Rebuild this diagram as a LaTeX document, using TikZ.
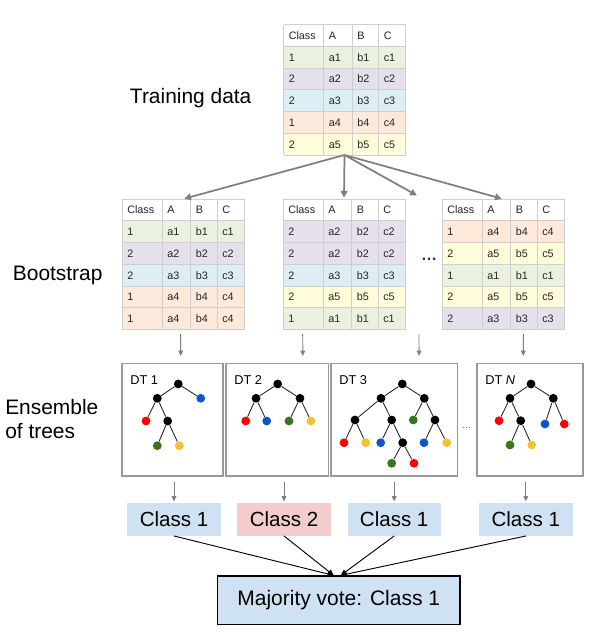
\documentclass[tikz,border=0pt]{standalone}
\usepackage{fontspec}
\setmainfont{Liberation Sans}
\usetikzlibrary{arrows.meta,calc}

% row tints of the data tables
\definecolor{rowgreen}{HTML}{EAF1DE}
\definecolor{rowpurple}{HTML}{E5E0EC}
\definecolor{rowblue}{HTML}{DCEEF4}
\definecolor{rowpeach}{HTML}{FDE9D9}
\definecolor{rowyellow}{HTML}{FFFDD9}
\definecolor{gridgray}{HTML}{CFCFCF}
\definecolor{framegray}{HTML}{999999}
\definecolor{arrowgray}{HTML}{7F7F7F}
\definecolor{classblue}{HTML}{CFE2F3}
\definecolor{classred}{HTML}{F4CCCC}
\definecolor{leafred}{HTML}{FF0000}
\definecolor{leafblue}{HTML}{1155CC}
\definecolor{leafgreen}{HTML}{38761D}
\definecolor{leafyellow}{HTML}{F1C232}
\definecolor{navydots}{HTML}{1F3864}

\tikzset{
  sizebox/.style 2 args={minimum width=#1*0.75pt, minimum height=#2*0.75pt},
  sectionlabel/.style={font=\fontsize{15.7}{18.5}\selectfont, inner sep=0pt},
  celltext/.style={font=\fontsize{8.1}{9.5}\selectfont, text=black!85, inner sep=0pt, anchor=base west},
  tabframe/.style={draw=none, inner sep=0pt, outer sep=0pt},
  gridline/.style={draw=gridgray, line width=0.6pt},
  split arrow/.style={draw=arrowgray, line width=1.3pt, shorten >=1pt, -{Triangle[length=5pt,width=5pt]}},
  thin arrow/.style={draw=arrowgray, line width=0.7pt, -{Triangle[length=4pt,width=3.5pt]}},
  vote arrow/.style={draw=black, line width=0.7pt, -{Triangle[length=4.5pt,width=4pt]}},
  treebox/.style={draw=framegray, line width=0.9pt, inner sep=0pt, outer sep=0pt, anchor=north west},
  treelabel/.style={font=\fontsize{9.6}{11}\selectfont, inner sep=0pt, anchor=base west},
  splitnode/.style={circle, fill=black, inner sep=0pt, minimum size=6.6pt},
  leafnode/.style={circle, fill=#1, inner sep=0pt, minimum size=6.6pt},
  treeedge/.style={draw=black!85, line width=0.65pt},
  classbox/.style={fill=#1, sizebox={93.4}{32.4}, inner sep=0pt, font=\fontsize{15.4}{18}\selectfont},
  votebox/.style={draw=black, line width=1pt, fill=classblue, sizebox={242.7}{48.3}, inner sep=0pt, font=\fontsize{15.75}{18}\selectfont},
}

% #1 name, #2 left, #3 top, #4 rows as key/class/a/b/c/tint
\newcommand\datatable[4]{%
  \node[tabframe, sizebox={122}{130.5}, anchor=north west] (#1) at (#2,#3) {};
  \foreach \ci/\cl/\va/\vb/\vc/\fc [count=\ri] in {#4} {
    \fill[\fc] ({#2},{#3+\ri*21.75}) rectangle ++(122,21.75);
    \node[celltext] (#1-\ri-1) at ({#2+5},{#3+\ri*21.75+14.8}) {\cl};
    \node[celltext] (#1-\ri-2) at ({#2+45},{#3+\ri*21.75+14.8}) {\va};
    \node[celltext] (#1-\ri-3) at ({#2+73.5},{#3+\ri*21.75+14.8}) {\vb};
    \node[celltext] (#1-\ri-4) at ({#2+100},{#3+\ri*21.75+14.8}) {\vc};
  }
  \foreach \hd/\dx [count=\k] in {Class/0, A/40, B/68.5, C/95}
    \node[celltext] (#1-h\k) at ({#2+\dx+5},{#3+14.8}) {\hd};
  \foreach \rr in {0,...,6}
    \draw[gridline] ({#2},{#3+\rr*21.75}) -- ++(122,0);
  \foreach \dx in {0,40,68.5,95,122}
    \draw[gridline] ({#2+\dx},{#3}) -- ++(0,130.5);
}

\begin{document}
\begin{tikzpicture}[x=0.75pt,y=-0.75pt]
\useasboundingbox (0,0) rectangle (600,632);
\fill[white] (0,0) rectangle (600,632);

% section labels
\node[sectionlabel, anchor=base] (lbltrain) at (190.7,103.3) {Training data};
\node[sectionlabel, anchor=base] (lblboot) at (57.7,280.5) {Bootstrap};
\node[sectionlabel, anchor=west, align=left] (lblens) at (5,419) {Ensemble\\of trees};

% training data and bootstrap samples
\datatable{train}{283.5}{24.5}{x/1/a1/b1/c1/rowgreen, x/2/a2/b2/c2/rowpurple, x/2/a3/b3/c3/rowblue, x/1/a4/b4/c4/rowpeach, x/2/a5/b5/c5/rowyellow}
\datatable{tab1}{122}{199}{x/1/a1/b1/c1/rowgreen, x/2/a2/b2/c2/rowpurple, x/2/a3/b3/c3/rowblue, x/1/a4/b4/c4/rowpeach, x/1/a4/b4/c4/rowpeach}
\datatable{tab2}{283}{199}{x/2/a2/b2/c2/rowpurple, x/2/a2/b2/c2/rowpurple, x/2/a3/b3/c3/rowblue, x/2/a5/b5/c5/rowyellow, x/1/a1/b1/c1/rowgreen}
\datatable{tab3}{442}{199}{x/1/a4/b4/c4/rowpeach, x/2/a5/b5/c5/rowyellow, x/1/a1/b1/c1/rowgreen, x/2/a5/b5/c5/rowyellow, x/2/a3/b3/c3/rowpurple}
\node[font=\bfseries\fontsize{12}{14}\selectfont, text=navydots, inner sep=0pt, anchor=base] (moretabs) at (429,260) {\dots};

% sampling arrows
\coordinate (moretip) at (418,196);
\draw[split arrow] (train.south) -- (tab1.north);
\draw[split arrow] (train.south) -- (tab2.north);
\draw[split arrow] (train.south) -- (moretip);
\draw[split arrow] (train.south) -- (tab3.north);

% tree boxes
\node[treebox, sizebox={101}{112.7}] (dt1) at (122,363.3) {};
\node[treebox, sizebox={102.3}{112.7}] (dt2) at (226,363.3) {};
\node[treebox, sizebox={126.7}{112.7}] (dt3) at (331,363.3) {};
\node[treebox, sizebox={106}{112.7}] (dt4) at (477,363.3) {};
\node[treelabel] (dt1lbl) at (130,384.5) {DT 1};
\node[treelabel] (dt2lbl) at (234,384.5) {DT 2};
\node[treelabel] (dt3lbl) at (339,384.5) {DT 3};
\node[treelabel] (dt4lbl) at (485,384.5) {DT \textit{N}};
\node[font=\fontsize{7}{8}\selectfont, text=black!75, inner sep=0pt, anchor=base] (moretrees) at (466.7,428) {\dots};

% bootstrap -> tree arrows
\coordinate (morecol) at (419,334);
\draw[thin arrow] ($(tab1.south)+(-2.3,4.5)$) -- ($(dt1.north)+(8.2,-7.3)$);
\draw[thin arrow] ($(tab2.south)+(-41.3,4.5)$) -- ($(dt2.north)+(25.7,-7.3)$);
\draw[thin arrow] (morecol) -- ($(dt3.north)+(24.7,-7.3)$);
\draw[thin arrow] ($(tab3.south)+(20.3,4.5)$) -- ($(dt4.north)+(-6.7,-7.3)$);

% DT 1
\node[splitnode] (t1r) at (178.3,384) {};
\node[splitnode] (t1a) at (157.3,398.3) {};
\node[leafnode=leafblue] (t1b) at (200.7,398.3) {};
\node[leafnode=leafred] (t1c) at (146,421) {};
\node[splitnode] (t1d) at (167.7,421) {};
\node[leafnode=leafgreen] (t1e) at (157.3,445.7) {};
\node[leafnode=leafyellow] (t1f) at (179.3,445.7) {};
\draw[treeedge] (t1r) -- (t1a) (t1r) -- (t1b) (t1a) -- (t1c) (t1a) -- (t1d) (t1d) -- (t1e) (t1d) -- (t1f);

% DT 2
\node[splitnode] (t2r) at (277.7,384) {};
\node[splitnode] (t2a) at (256,398.3) {};
\node[splitnode] (t2b) at (300,398.3) {};
\node[leafnode=leafred] (t2c) at (245.7,421) {};
\node[leafnode=leafblue] (t2d) at (266.7,421) {};
\node[leafnode=leafgreen] (t2e) at (289,421) {};
\node[leafnode=leafyellow] (t2f) at (311,421) {};
\draw[treeedge] (t2r) -- (t2a) (t2r) -- (t2b) (t2a) -- (t2c) (t2a) -- (t2d) (t2b) -- (t2e) (t2b) -- (t2f);

% DT 3
\node[splitnode] (t3r) at (402.3,384) {};
\node[splitnode] (t3a) at (381,398.3) {};
\node[splitnode] (t3b) at (424.3,398.3) {};
\node[splitnode] (t3c) at (355,420) {};
\node[splitnode] (t3d) at (391.7,420) {};
\node[leafnode=leafgreen] (t3e) at (413.3,420) {};
\node[splitnode] (t3f) at (435,420) {};
\node[leafnode=leafred] (t3g) at (344,442.7) {};
\node[leafnode=leafyellow] (t3h) at (365.7,442.7) {};
\node[leafnode=leafblue] (t3i) at (380.7,442.7) {};
\node[splitnode] (t3j) at (402.7,442.7) {};
\node[leafnode=leafblue] (t3k) at (424,442.7) {};
\node[leafnode=leafyellow] (t3l) at (446.7,442.7) {};
\node[leafnode=leafgreen] (t3m) at (391.7,463.3) {};
\node[leafnode=leafred] (t3n) at (414,463.3) {};
\draw[treeedge] (t3r) -- (t3a) (t3r) -- (t3b) (t3a) -- (t3c) (t3a) -- (t3d) (t3b) -- (t3e) (t3b) -- (t3f)
  (t3c) -- (t3g) (t3c) -- (t3h) (t3d) -- (t3i) (t3d) -- (t3j) (t3f) -- (t3k) (t3f) -- (t3l) (t3j) -- (t3m) (t3j) -- (t3n);

% DT N
\node[splitnode] (t4r) at (531,384) {};
\node[splitnode] (t4a) at (510,398.3) {};
\node[splitnode] (t4b) at (553.3,398.3) {};
\node[leafnode=leafred] (t4c) at (499,420.7) {};
\node[splitnode] (t4d) at (520.7,420.7) {};
\node[leafnode=leafblue] (t4e) at (545,424) {};
\node[leafnode=leafred] (t4f) at (564.3,424) {};
\node[leafnode=leafgreen] (t4g) at (510,445) {};
\node[leafnode=leafyellow] (t4h) at (531.7,445) {};
\draw[treeedge] (t4r) -- (t4a) (t4r) -- (t4b) (t4a) -- (t4c) (t4a) -- (t4d) (t4b) -- (t4e) (t4b) -- (t4f) (t4d) -- (t4g) (t4d) -- (t4h);

% predictions
\node[classbox=classblue] (c1) at (174,519.5) {Class 1};
\node[classbox=classred] (c2) at (284,519.5) {Class 2};
\node[classbox=classblue] (c3) at (394.2,519.5) {Class 1};
\node[classbox=classblue] (c4) at (525.8,519.5) {Class 1};
\foreach \t/\c in {dt1/c1, dt2/c2, dt3/c3, dt4/c4}
  \draw[thin arrow] ($(\t.south -| \c.north)+(0,5.7)$) -- ($(\c.north)+(0,-1.6)$);

% vote
\node[votebox] (vote) at (338.7,600.2) {Majority vote: Class 1};
\draw[vote arrow] (c1.south) -- ($(vote.north)+(-5,0)$);
\draw[vote arrow] (c2.south) -- ($(vote.north)+(-5,0)$);
\draw[vote arrow] (c3.south) -- ($(vote.north)+(2,0)$);
\draw[vote arrow] (c4.south) -- ($(vote.north)+(2,0)$);
\end{tikzpicture}
\end{document}
